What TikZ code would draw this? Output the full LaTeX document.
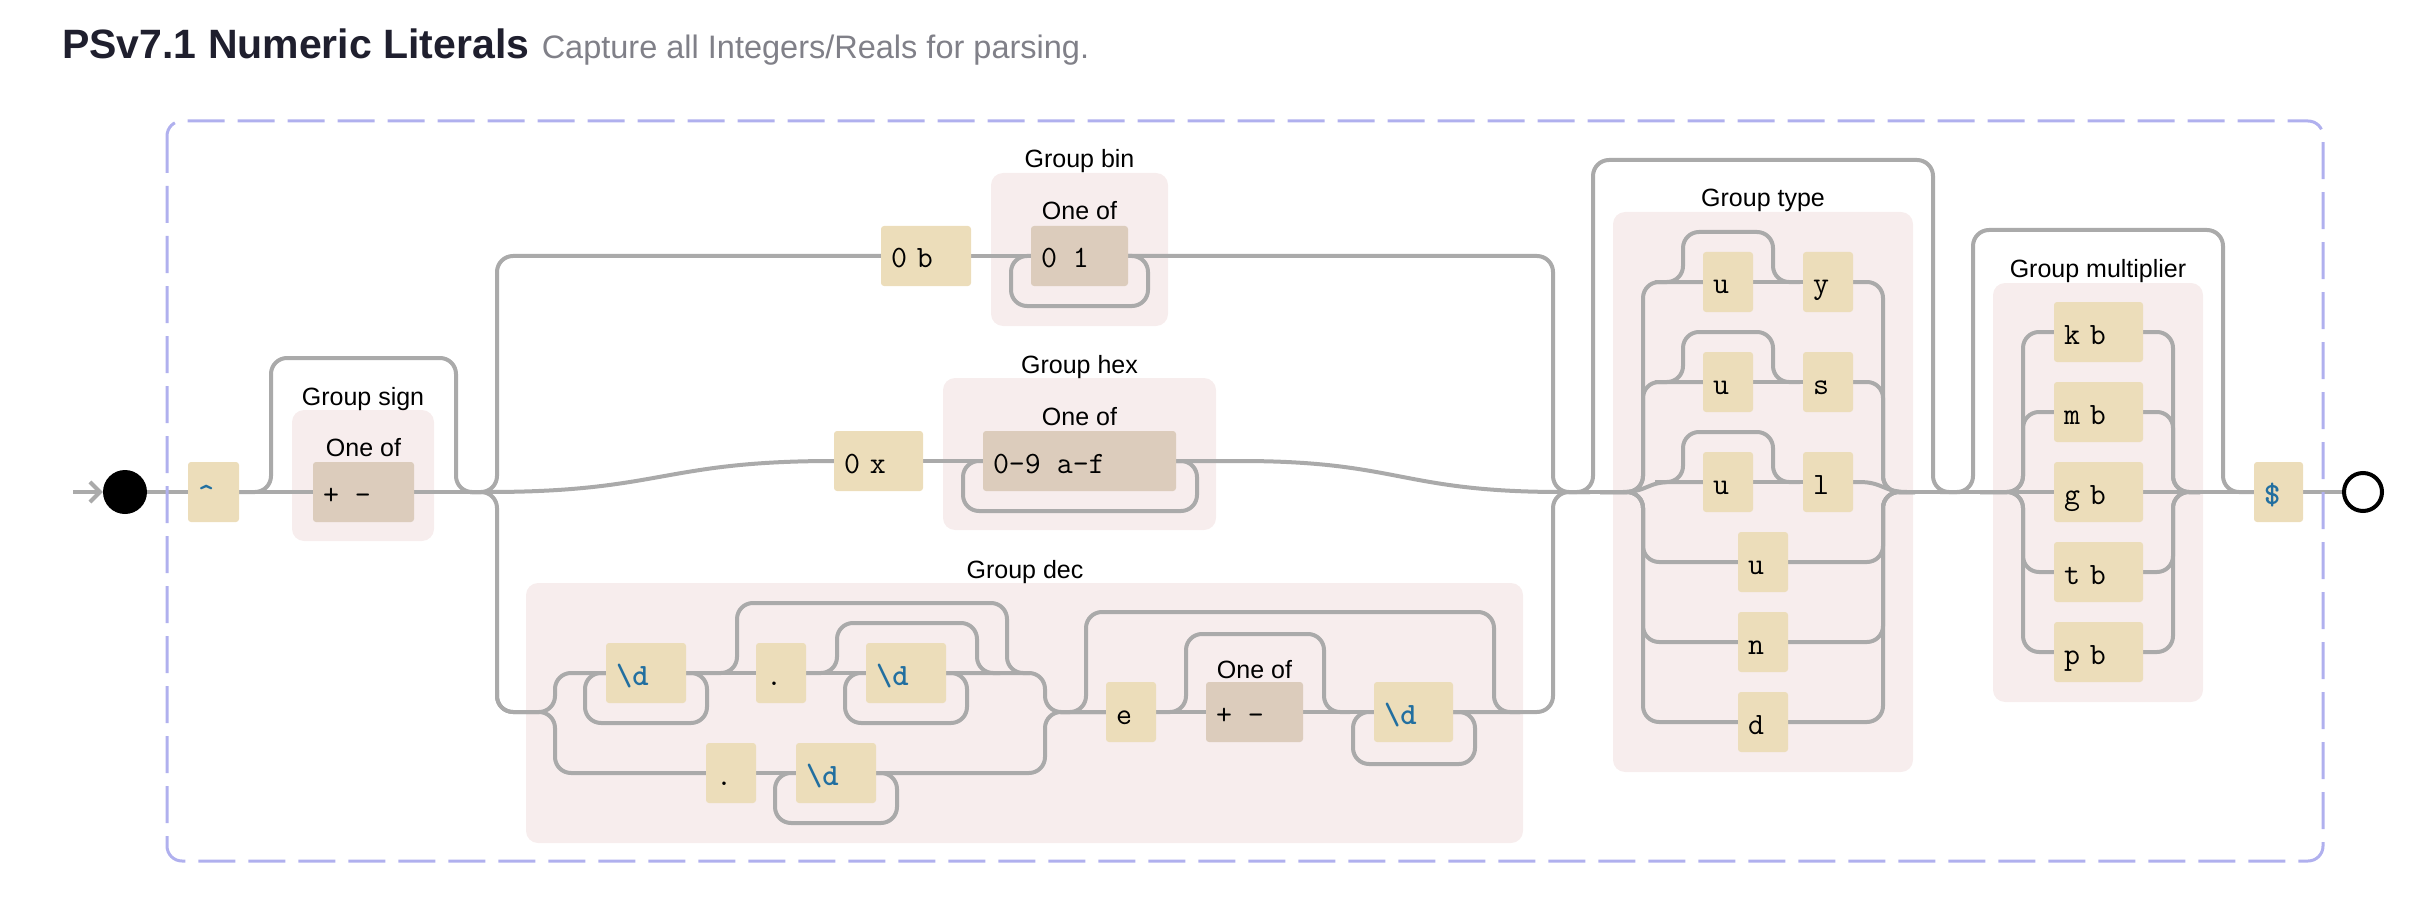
\documentclass[tikz,border=0pt]{standalone}
\usepackage{fontspec}
\setmainfont{Liberation Sans}
\usetikzlibrary{arrows.meta}
\definecolor{litfill}{RGB}{236,221,186}
\definecolor{csfill}{RGB}{220,204,188}
\definecolor{pinkfill}{RGB}{247,237,237}
\definecolor{linegray}{RGB}{170,170,170}
\definecolor{dashcol}{RGB}{176,176,238}
\definecolor{escblue}{RGB}{34,111,160}
\definecolor{titlecol}{RGB}{31,31,46}
\definecolor{subcol}{RGB}{128,128,136}
\newcommand\litfont{\fontsize{31}{31}\selectfont\ttfamily}
\newcommand\escfont{\fontsize{31}{31}\selectfont\ttfamily\bfseries}
\newcommand\labfont{\fontsize{25}{25}\selectfont}
\newcommand\fixw[2]{\hbox to #1pt{#2\hss}}
\pgfdeclarelayer{pinks}
\pgfdeclarelayer{lines}
\pgfsetlayers{pinks,lines,main}
\tikzset{
  lit/.style={fill=litfill, rounded corners=3pt, minimum height=60pt, inner xsep=10pt, inner ysep=0pt, text height=24pt, text depth=0pt, font=\litfont, anchor=center},
  cset/.style={lit, fill=csfill},
  esc/.style={lit, font=\escfont, text=escblue},
  grp/.style={fill=pinkfill, rounded corners=12pt},
  rr/.style={draw=linegray, line width=4pt, rounded corners=16pt},
  ln/.style={draw=linegray, line width=4pt},
  lab/.style={font=\labfont, anchor=base, inner sep=0pt},
}
\begin{document}
\begin{tikzpicture}[x=1pt,y=-1pt]
\useasboundingbox (0,0) rectangle (2434,904);
% title
\node[anchor=base west, inner sep=0pt, font=\fontsize{41}{41}\selectfont\bfseries, text=titlecol] (title) at (62,59) {PSv7.1 Numeric Literals};
\node[anchor=base west, inner sep=0pt, font=\fontsize{32.5}{32.5}\selectfont, text=subcol] (sub) at ([xshift=12pt]title.base east) {Capture all Integers/Reals for parsing.};
% frame
\draw[dashcol, line width=3pt, dash pattern=on 37pt off 13pt, rounded corners=15pt] (167,121) rectangle (2323,861);
% group backgrounds
\begin{pgfonlayer}{pinks}
\fill[grp] (292,410) rectangle (434,541);
\fill[grp] (991,173) rectangle (1168,326);
\fill[grp] (943,378) rectangle (1216,530);
\fill[grp] (526,583) rectangle (1523,843);
\fill[grp] (1613,212) rectangle (1913,772);
\fill[grp] (1993,283) rectangle (2203,702);
\end{pgfonlayer}
% labels
\node[lab] (lsign) at (363,405) {Group sign};
\node[lab] (osign) at (363.5,456) {One of};
\node[lab] (lbin) at (1079.5,168) {Group bin};
\node[lab] (obin) at (1079.5,220) {One of};
\node[lab] (lhex) at (1079.5,373) {Group hex};
\node[lab] (ohex) at (1079.5,425) {One of};
\node[lab] (ldec) at (1025,578) {Group dec};
\node[lab] (odec) at (1254.5,678) {One of};
\node[lab] (ltype) at (1763,207) {Group type};
\node[lab] (lmult) at (2098,277) {Group multiplier};
% start / end
\node[circle, fill=black, minimum size=44pt, inner sep=0pt] (st) at (125,492) {};
\node[circle, draw=black, line width=4pt, fill=white, minimum size=38pt, inner sep=0pt] (fin) at (2363,492) {};
% boxes
\node[esc] (caret) at (213.5,492) {\fixw{31}{\textasciicircum}};
\node[cset] (signset) at (363.5,492) {\fixw{81}{+ -}};
\node[lit] (ob) at (926,256) {\fixw{70}{0\kern10pt b}};
\node[cset] (binset) at (1079.5,256) {\fixw{77}{0 1}};
\node[lit] (ox) at (878.5,461) {\fixw{69}{0\kern10pt x}};
\node[cset] (hexset) at (1079.5,461) {\fixw{173}{0-9 a-f}};
\node[esc] (d1) at (646,673) {\fixw{60}{\textbackslash d}};
\node[lit] (dot1) at (781,673) {\fixw{30}{.}};
\node[esc] (d2) at (906,673) {\fixw{60}{\textbackslash d}};
\node[lit] (dot2) at (731,773) {\fixw{30}{.}};
\node[esc] (d3) at (836,773) {\fixw{60}{\textbackslash d}};
\node[lit] (e) at (1131,712) {\fixw{30}{e}};
\node[cset] (pm) at (1254.5,712) {\fixw{77}{+ -}};
\node[esc] (d4) at (1413.5,712) {\fixw{59}{\textbackslash d}};
\node[lit] (u1) at (1728,282) {\fixw{30}{u}};
\node[lit] (ty) at (1828,282) {\fixw{30}{y}};
\node[lit] (u2) at (1728,382) {\fixw{30}{u}};
\node[lit] (ts) at (1828,382) {\fixw{30}{s}};
\node[lit] (u3) at (1728,482) {\fixw{30}{u}};
\node[lit] (tl) at (1828,482) {\fixw{30}{l}};
\node[lit] (u4) at (1763,562) {\fixw{30}{u}};
\node[lit] (tn) at (1763,642) {\fixw{30}{n}};
\node[lit] (td) at (1763,722) {\fixw{30}{d}};
\node[lit] (kb) at (2098.5,332) {\fixw{69}{k\kern10pt b}};
\node[lit] (mb) at (2098.5,412) {\fixw{69}{m\kern10pt b}};
\node[lit] (gb) at (2098.5,492) {\fixw{69}{g\kern10pt b}};
\node[lit] (tb) at (2098.5,572) {\fixw{69}{t\kern10pt b}};
\node[lit] (pb) at (2098.5,652) {\fixw{69}{p\kern10pt b}};
\node[esc] (dollar) at (2278.5,492) {\fixw{29}{\$}};
% connectors
\begin{pgfonlayer}{lines}
\draw[ln, -{Straight Barb[length=10pt,width=20pt]}] (73,492) -- (st.west);
\draw[rr] (st.east) -- (caret.west);
\draw[rr] (caret.east) -- (signset.west);
\draw[rr] (caret.east) -- (271,492) -- (271,358) -- (456,358) -- (456,492) -- (490,492);
\draw[rr] (signset.east) -- (490,492);
% hex branch
\draw[ln] (488,492) .. controls (662,492) and (662,461) .. (ox.west);
\draw[rr] (ox.east) -- (hexset.west);
\draw[rr] (hexset.west) -- (963,461) -- (963,511) -- (1197,511) -- (1197,461) -- (hexset.east);
\draw[ln] (hexset.east) -- (1240,461) .. controls (1400,461) and (1400,492) .. (1562,492);
% bin branch
\draw[rr] (470,492) -- (497,492) -- (497,256) -- (ob.west);
\draw[rr] (ob.east) -- (binset.west);
\draw[rr] (binset.west) -- (1011,256) -- (1011,306) -- (1148,306) -- (1148,256) -- (binset.east);
\draw[rr] (binset.east) -- (1553,256) -- (1553,492) -- (1590,492);
% dec branch
\draw[rr] (470,492) -- (497,492) -- (497,712) -- (555,712) -- (555,673) -- (d1.west);
\draw[rr] (497,690) -- (497,712) -- (555,712) -- (555,773) -- (dot2.west);
\draw[rr] (d1.west) -- (585,673) -- (585,723) -- (707,723) -- (707,673) -- (d1.east);
\draw[rr] (d1.east) -- (dot1.west);
\draw[rr] (d1.east) -- (737,673) -- (737,603) -- (1007,603) -- (1007,673) -- (1030,673);
\draw[rr] (dot1.east) -- (d2.west);
\draw[rr] (dot1.east) -- (837,673) -- (837,623) -- (977,623) -- (977,673) -- (1000,673);
\draw[rr] (d2.west) -- (845,673) -- (845,723) -- (967,723) -- (967,673) -- (d2.east);
\draw[rr] (d2.east) -- (1045,673) -- (1045,712) -- (e.west);
\draw[rr] (dot2.east) -- (d3.west);
\draw[rr] (d3.west) -- (775,773) -- (775,823) -- (897,823) -- (897,773) -- (d3.east);
\draw[rr] (d3.east) -- (1045,773) -- (1045,712) -- (e.west);
\draw[rr] (1060,712) -- (1086,712) -- (1086,612) -- (1494,612) -- (1494,712) -- (1520,712);
\draw[rr] (e.east) -- (pm.west);
\draw[rr] (e.east) -- (1186,712) -- (1186,634) -- (1324,634) -- (1324,712) -- (1350,712);
\draw[rr] (pm.east) -- (d4.west);
\draw[rr] (d4.west) -- (1353,712) -- (1353,764) -- (1475,764) -- (1475,712) -- (d4.east);
\draw[rr] (d4.east) -- (1553,712) -- (1553,492) -- (1590,492);
% type
\draw[rr] (1560,492) -- (1625,492);
\draw[rr] (1560,492) -- (1593,492) -- (1593,160) -- (1933,160) -- (1933,492) -- (1960,492);
\draw[rr] (1600,492) -- (1643,492) -- (1643,282) -- (u1.west);
\draw[rr] (1600,492) -- (1643,492) -- (1643,382) -- (u2.west);
\draw[ln] (1623,492) .. controls (1647,492) and (1647,482) .. (1671,482) -- (u3.west);
\draw[rr] (1600,492) -- (1643,492) -- (1643,562) -- (u4.west);
\draw[rr] (1600,492) -- (1643,492) -- (1643,642) -- (tn.west);
\draw[rr] (1600,492) -- (1643,492) -- (1643,722) -- (td.west);
\draw[rr] (u1.east) -- (ty.west);
\draw[rr] (u2.east) -- (ts.west);
\draw[rr] (u3.east) -- (tl.west);
\draw[rr] (1655,282) -- (1683,282) -- (1683,232) -- (1773,232) -- (1773,282) -- (1800,282);
\draw[rr] (1655,382) -- (1683,382) -- (1683,332) -- (1773,332) -- (1773,382) -- (1800,382);
\draw[rr] (1655,482) -- (1683,482) -- (1683,432) -- (1773,432) -- (1773,482) -- (1800,482);
\draw[rr] (ty.east) -- (1883,282) -- (1883,492) -- (1915,492);
\draw[rr] (ts.east) -- (1883,382) -- (1883,492) -- (1915,492);
\draw[ln] (tl.east) -- (1859,482) .. controls (1883,482) and (1883,492) .. (1907,492);
\draw[rr] (u4.east) -- (1883,562) -- (1883,492) -- (1915,492);
\draw[rr] (tn.east) -- (1883,642) -- (1883,492) -- (1915,492);
\draw[rr] (td.east) -- (1883,722) -- (1883,492) -- (1915,492);
% multiplier
\draw[rr] (1900,492) -- (gb.west);
\draw[rr] (1940,492) -- (1973,492) -- (1973,230) -- (2223,230) -- (2223,492) -- (dollar.west);
\draw[rr] (1980,492) -- (2023,492) -- (2023,332) -- (kb.west);
\draw[rr] (1980,492) -- (2023,492) -- (2023,412) -- (mb.west);
\draw[rr] (1980,492) -- (2023,492) -- (2023,572) -- (tb.west);
\draw[rr] (1980,492) -- (2023,492) -- (2023,652) -- (pb.west);
\draw[rr] (kb.east) -- (2173,332) -- (2173,492) -- (2200,492);
\draw[rr] (mb.east) -- (2173,412) -- (2173,492) -- (2200,492);
\draw[rr] (tb.east) -- (2173,572) -- (2173,492) -- (2200,492);
\draw[rr] (pb.east) -- (2173,652) -- (2173,492) -- (2200,492);
\draw[rr] (gb.east) -- (dollar.west);
\draw[rr] (dollar.east) -- (fin.west);
\end{pgfonlayer}
\end{tikzpicture}
\end{document}
